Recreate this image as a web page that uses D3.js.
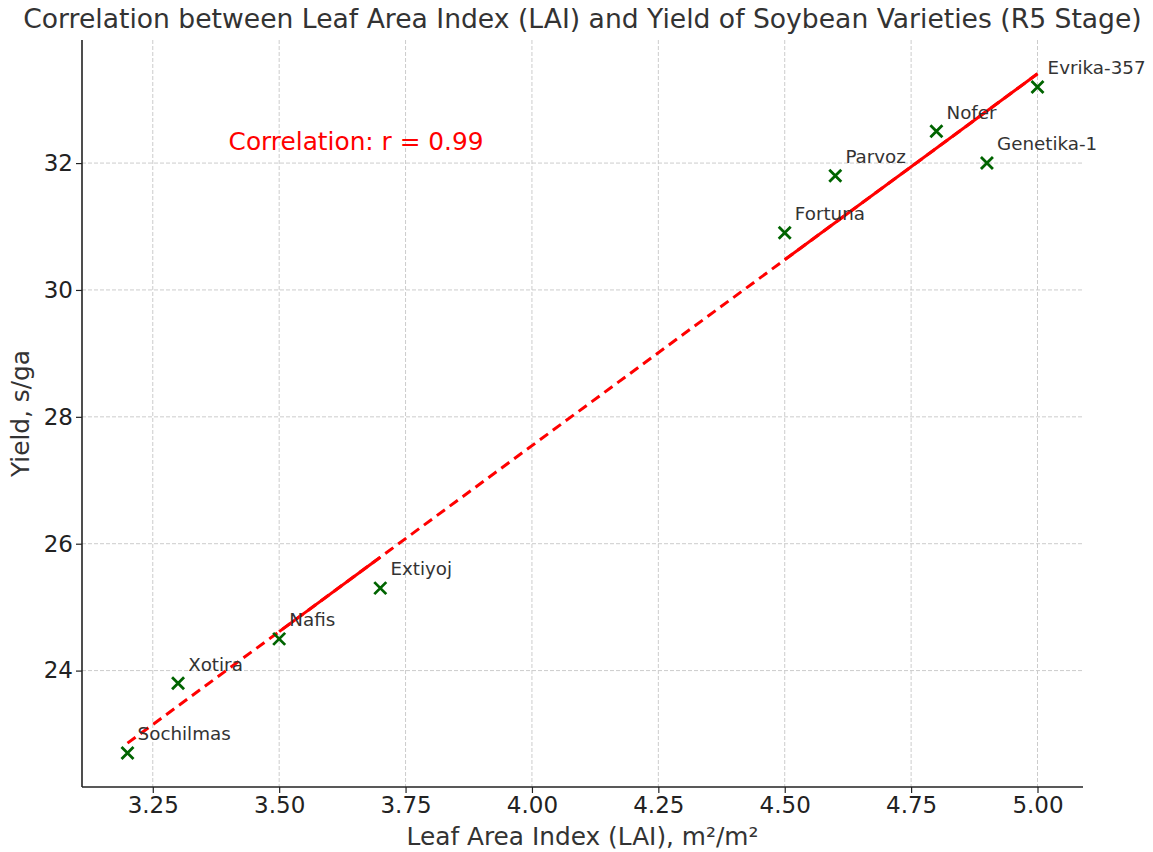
<!DOCTYPE html>
<html><head><meta charset="utf-8">
<script src="https://cdn.jsdelivr.net/npm/d3@7"></script>
<style>body{margin:0;background:#fff;} text{font-family:"DejaVu Sans",sans-serif;}</style>
</head><body>
<svg id="c" width="1153" height="852"></svg>
<script>
const varieties = ["Sochilmas","Xotira","Nafis","Extiyoj","Fortuna","Parvoz","Nofer","Genetika-1","Evrika-357"];
const lai = [3.2,3.3,3.5,3.7,4.5,4.6,4.8,4.9,5.0];
const yieldVals = [22.7,23.8,24.5,25.3,30.9,31.8,32.5,32.0,33.2];
const xTicks = [3.25,3.5,3.75,4.0,4.25,4.5,4.75,5.0];
const yTicks = [24,26,28,30,32];
const solidRanges = [[3.5,3.7],[4.5,5.0]];

const svg = d3.select("#c");
const m = {l:82, r:1083, t:40, b:787};
const x = d3.scaleLinear().domain([3.11,5.09]).range([m.l,m.r]);
const y = d3.scaleLinear().domain([22.165,33.94]).range([m.b,m.t]);

// regression
const n = lai.length, mx = d3.mean(lai), my = d3.mean(yieldVals);
let sxy=0,sxx=0,syy=0;
for(let i=0;i<n;i++){sxy+=(lai[i]-mx)*(yieldVals[i]-my);sxx+=(lai[i]-mx)**2;syy+=(yieldVals[i]-my)**2;}
const slope = sxy/sxx, icpt = my-slope*mx, r = sxy/Math.sqrt(sxx*syy);
const f = v => icpt + slope*v;

// grid
const g = svg.append("g");
g.selectAll(".gx").data(xTicks).enter().append("line")
 .attr("x1",d=>x(d)).attr("x2",d=>x(d)).attr("y1",m.t).attr("y2",m.b)
 .attr("stroke","#cccccc").attr("stroke-width",1).attr("stroke-dasharray","4,2");
g.selectAll(".gy").data(yTicks).enter().append("line")
 .attr("y1",d=>y(d)).attr("y2",d=>y(d)).attr("x1",m.l).attr("x2",m.r)
 .attr("stroke","#cccccc").attr("stroke-width",1).attr("stroke-dasharray","4,2");

// axes
const xa = svg.append("g").attr("transform",`translate(0,${m.b})`)
 .call(d3.axisBottom(x).tickValues(xTicks).tickFormat(d3.format(".2f")).tickSize(6).tickSizeOuter(0));
const ya = svg.append("g").attr("transform",`translate(${m.l},0)`)
 .call(d3.axisLeft(y).tickValues(yTicks).tickFormat(d3.format("d")).tickSize(6).tickSizeOuter(0));
[xa,ya].forEach(a=>{
  a.select(".domain").attr("stroke","#222").attr("stroke-width",1.6);
  a.selectAll(".tick line").attr("stroke","#222").attr("stroke-width",1.2);
  a.selectAll(".tick text").attr("fill","#222").style("font-size","23px").style("font-family","DejaVu Sans");
});
xa.selectAll(".tick text").attr("dy","0.9em").attr("y",5);
ya.selectAll(".tick text").attr("x",-9);
xa.select(".domain").attr("d",`M${m.l},0H${m.r}`);
ya.select(".domain").attr("d",`M0,${m.b}V${m.t}`);

// regression lines
const line = d3.line().x(d=>x(d)).y(d=>y(f(d)));
svg.append("path").datum([lai[0], lai[n-1]]).attr("d",line)
 .attr("fill","none").attr("stroke","red").attr("stroke-width",3).attr("stroke-dasharray","10,6");
svg.selectAll(".solid").data(solidRanges).enter().append("path").attr("d",line)
 .attr("fill","none").attr("stroke","red").attr("stroke-width",3);

// markers
const ms = 6;
const data = lai.map((d,i)=>({x:d,y:yieldVals[i],name:varieties[i]}));
const pts = svg.selectAll(".pt").data(data).enter().append("g")
 .attr("transform",d=>`translate(${x(d.x)},${y(d.y)})`);
pts.append("path").attr("d",`M${-ms},${-ms}L${ms},${ms}M${-ms},${ms}L${ms},${-ms}`)
 .attr("stroke","#006400").attr("stroke-width",2.8).attr("fill","none");
svg.selectAll(".lbl").data(data).enter().append("text")
 .attr("x",d=>x(d.x+0.02)).attr("y",d=>y(d.y+0.2)).text(d=>d.name)
 .attr("fill","#333").style("font-size","18.3px");

// correlation text
svg.append("text").attr("x",x(3.4)).attr("y",y(32.2)).attr("fill","red").style("font-size","24.8px")
 .text(`Correlation: r = ${r.toFixed(2)}`);

// title and labels
svg.append("text").attr("x",(m.l+m.r)/2).attr("y",28).attr("text-anchor","middle").attr("fill","#333")
 .style("font-size","26.6px").text("Correlation between Leaf Area Index (LAI) and Yield of Soybean Varieties (R5 Stage)");
svg.append("text").attr("x",(m.l+m.r)/2).attr("y",845).attr("text-anchor","middle").attr("fill","#333")
 .style("font-size","24.8px").text("Leaf Area Index (LAI), m²/m²");
svg.append("text").attr("transform",`translate(29,${(m.t+m.b)/2}) rotate(-90)`).attr("text-anchor","middle").attr("fill","#333")
 .style("font-size","24.8px").text("Yield, s/ga");
</script>
</body></html>
